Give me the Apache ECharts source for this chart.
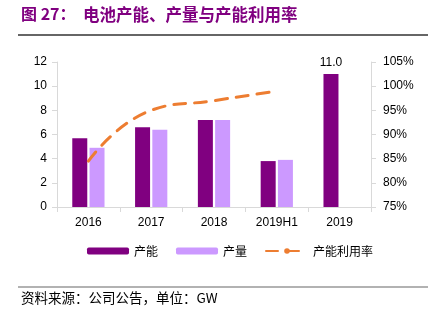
<!DOCTYPE html>
<html><head><meta charset="utf-8">
<script src="https://cdn.jsdelivr.net/npm/echarts@6/dist/echarts.min.js"></script>
<style>html,body{margin:0;padding:0;background:#fff}#c{width:428px;height:323px}</style>
</head><body><div id="c"></div>
<script>
const categories = ['2016','2017','2018','2019H1','2019'];
const capacity = [5.7, 6.6, 7.2, 3.8, 11.0];
const production = [4.9, 6.4, 7.2, 3.9, null];
const utilization = [84.5, 95, 97, 99, null];
const leftTicks = [0, 12, 2];
const rightTicks = [75, 105, 5];

const chart = echarts.init(document.getElementById('c'));
const font = '"Noto Sans CJK SC", sans-serif';
chart.setOption({
  animation: false,
  textStyle: { fontFamily: 'Liberation Sans, Arial, sans-serif' },
  graphic: [
    { type: 'text', left: 21, top: 6, style: { text: '图 27：', fill: '#800080', font: 'bold 16px ' + font } },
    { type: 'text', left: 83, top: 6, style: { text: '电池产能、产量与产能利用率', fill: '#800080', font: 'bold 16.5px ' + font } },
    { type: 'line', shape: { x1: 18, y1: 35, x2: 428, y2: 35 }, style: { stroke: '#333', lineWidth: 1.3 } },
    { type: 'line', shape: { x1: 18, y1: 287, x2: 428, y2: 287 }, style: { stroke: '#999', lineWidth: 1.5 } },
    { type: 'text', left: 21, top: 291, style: { text: '资料来源：公司公告，单位：GW', fill: '#000', font: '13.5px ' + font } }
  ],
  grid: { left: 57, right: 57, top: 62, bottom: 116 },
  legend: {
    top: 240, left: 82,
    itemWidth: 42, itemHeight: 7, itemGap: 18,
    textStyle: { fontFamily: font, fontSize: 12, color: '#000' },
    data: ['产能', '产量', '产能利用率']
  },
  xAxis: {
    type: 'category', data: categories,
    axisLine: { lineStyle: { color: '#d9d9d9' } },
    axisTick: { show: true, lineStyle: { color: '#d9d9d9' } },
    axisLabel: { color: '#000', fontSize: 12, margin: 10 }
  },
  yAxis: [
    { type: 'value', min: leftTicks[0], max: leftTicks[1], interval: leftTicks[2],
      axisLine: { show: true, lineStyle: { color: '#d9d9d9' } },
      axisTick: { show: true, lineStyle: { color: '#d9d9d9' } },
      splitLine: { show: false },
      axisLabel: { color: '#000', fontSize: 12, margin: 10 } },
    { type: 'value', min: rightTicks[0], max: rightTicks[1], interval: rightTicks[2],
      axisLine: { show: true, lineStyle: { color: '#d9d9d9' } },
      axisTick: { show: true, lineStyle: { color: '#d9d9d9' } },
      splitLine: { show: false },
      axisLabel: { color: '#000', fontSize: 12, margin: 12, formatter: '{value}%' } }
  ],
  series: [
    { name: '产能', type: 'bar', data: capacity.map((v, i) => i === 4 ? { value: v, label: { show: true, position: 'top', formatter: '11.0', color: '#000', fontSize: 12 } } : v),
      barWidth: 15, barGap: '15%', itemStyle: { color: '#800080' } },
    { name: '产量', type: 'bar', data: production, barWidth: 15, itemStyle: { color: '#CC99FF' } },
    { name: '产能利用率', type: 'line', yAxisIndex: 1, data: utilization, smooth: true,
      symbol: 'none', lineStyle: { color: '#ED7D31', width: 3, type: [12, 9], cap: 'round' },
      itemStyle: { color: '#ED7D31' } }
  ]
});
</script></body></html>
